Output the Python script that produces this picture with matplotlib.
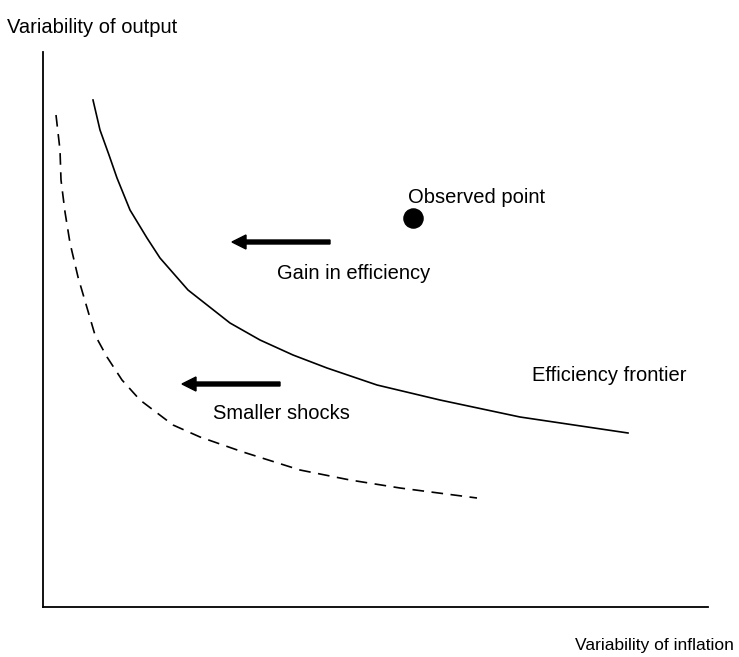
import matplotlib.pyplot as plt

plt.rcParams['font.family'] = ['Liberation Sans', 'DejaVu Sans']

# everything in pixel-ish units measured from the axes corner
frontier_x = [50, 57, 66, 74, 87, 104, 117, 145, 187, 217, 250, 284, 334, 397, 477, 585]
frontier_y = [507, 477, 452, 429, 397, 369, 349, 317, 284, 267, 252, 239, 222, 207, 190, 174]

shocks_x = [13, 17, 18, 22, 27, 35, 52, 64, 79, 97, 130, 157, 200, 257, 307, 357, 434]
shocks_y = [492, 457, 427, 395, 364, 330, 272, 250, 227, 207, 182, 170, 155, 137, 127, 119, 109]

observed_x = [370]
observed_y = [389]

# arrows: tail x, tip x, y
gain_arrow = (287, 189, 365)
shock_arrow = (237, 139, 223)

labels = {
    'Observed point': (365, 404),
    'Gain in efficiency': (234, 328),
    'Smaller shocks': (170, 188),
    'Efficiency frontier': (489, 226),
}

fig = plt.figure(figsize=(7.39, 6.57), dpi=100)
W, H = 739, 657
ax_left, ax_top, ax_right, ax_bottom = 43, 52, 708, 607
ax = fig.add_axes([ax_left / W, (H - ax_bottom) / H,
                   (ax_right - ax_left) / W, (ax_bottom - ax_top) / H])
ax.set_xlim(0, ax_right - ax_left)
ax.set_ylim(0, ax_bottom - ax_top)

for s in ['top', 'right']:
    ax.spines[s].set_visible(False)
for s in ['left', 'bottom']:
    ax.spines[s].set_linewidth(1.3)
ax.set_xticks([])
ax.set_yticks([])

ax.plot(frontier_x, frontier_y, color='black', lw=1.2)
ax.plot(shocks_x, shocks_y, color='black', lw=1.2, dashes=(7, 4.5))
ax.scatter(observed_x, observed_y, s=190, color='black', zorder=3)

for tail, tip, y in [gain_arrow, shock_arrow]:
    ax.arrow(tail, y, tip - tail, 0, width=4, head_width=14, head_length=14,
             length_includes_head=True, color='black')

for txt, (x, y) in labels.items():
    ax.text(x, y, txt, fontsize=14.5, va='baseline', ha='left')

fig.text(7 / W, 1 - 33 / H, 'Variability of output', fontsize=14.5,
         va='baseline', ha='left')
# the x label in the original is set narrower than the rest
fig.text(734 / W, 1 - 650 / H, 'Variability of inflation', fontsize=12.5,
         va='baseline', ha='right')

fig.savefig('out.png', dpi=100)
